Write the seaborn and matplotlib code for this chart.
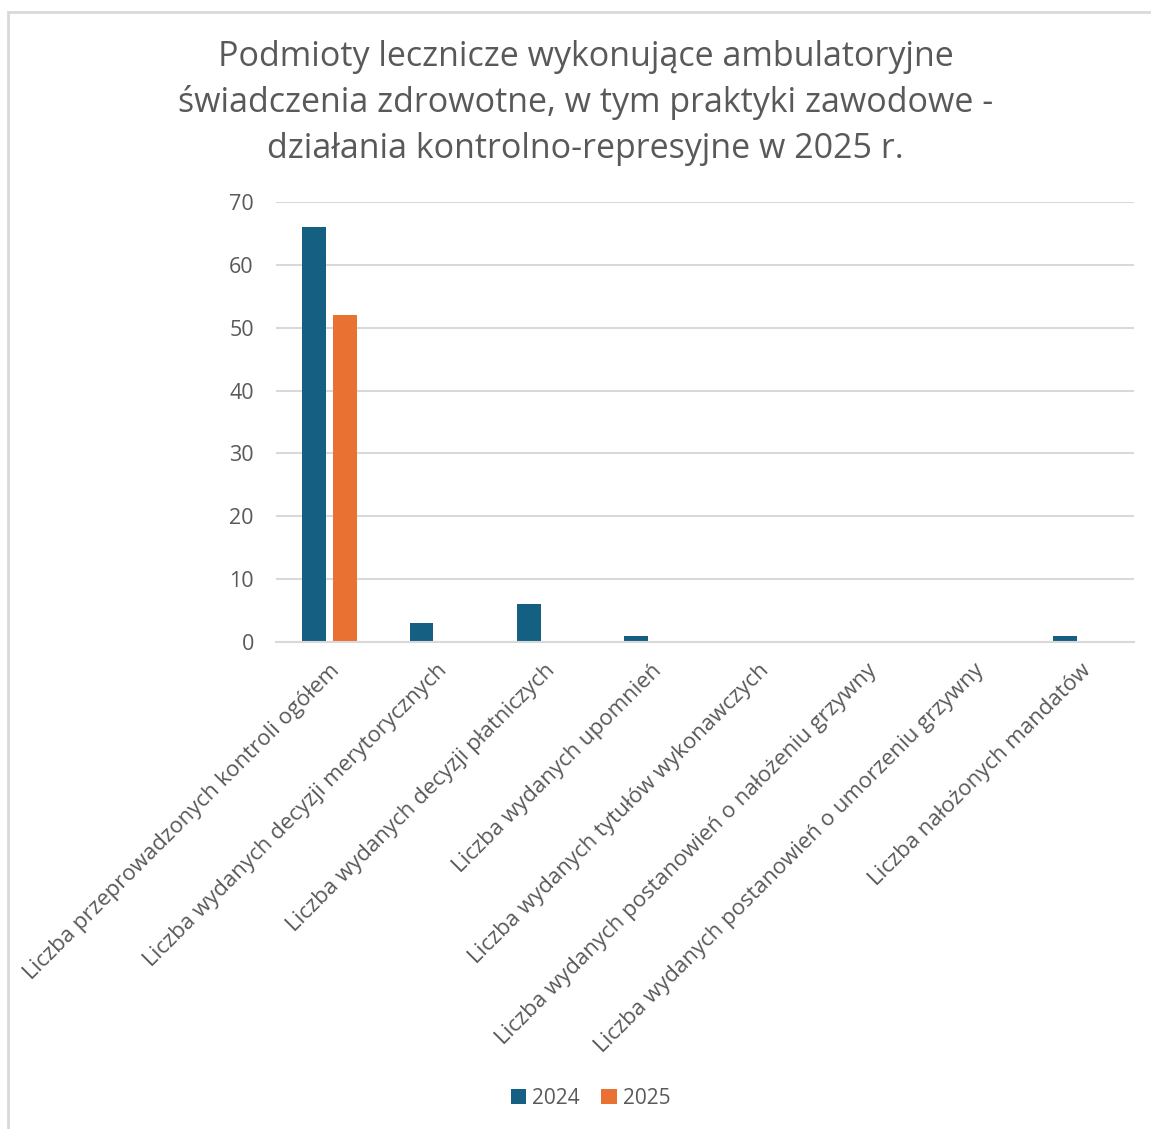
import pandas as pd
import matplotlib
matplotlib.use("Agg")
import matplotlib.pyplot as plt
import seaborn as sns
from matplotlib.patches import Rectangle

# Categories and values
categories = [
    "Liczba przeprowadzonych kontroli ogółem",
    "Liczba wydanych decyzji merytorycznych",
    "Liczba wydanych decyzji płatniczych",
    "Liczba wydanych upomnień",
    "Liczba wydanych tytułów wykonawczych",
    "Liczba wydanych postanowień o nałożeniu grzywny",
    "Liczba wydanych postanowień o umorzeniu grzywny",
    "Liczba nałożonych mandatów",
]
values_2024 = [66, 3, 6, 1, 0, 0, 0, 1]
values_2025 = [52, 0, 0, 0, 0, 0, 0, 0]
years = ["2024", "2025"]
colors = {"2024": "#156082", "2025": "#E97132"}

title = ("Podmioty lecznicze wykonujące ambulatoryjne\n"
         "świadczenia zdrowotne, w tym praktyki zawodowe -\n"
         "działania kontrolno-represyjne w 2025 r.")

df = pd.DataFrame({
    "Kategoria": categories * 2,
    "Rok": [years[0]] * len(categories) + [years[1]] * len(categories),
    "Wartość": values_2024 + values_2025,
})

sns.set_theme(style="white")
plt.rcParams["font.family"] = ["Open Sans", "DejaVu Sans"]
text_gray = "#595959"

fig = plt.figure(figsize=(11.51, 11.29), dpi=100)
ax = fig.add_axes([0.2398, 0.4314, 0.7454, 0.3897])

sns.barplot(data=df, x="Kategoria", y="Wartość", hue="Rok", palette=colors,
            width=0.571, gap=0.226, saturation=1, linewidth=0, ax=ax, legend=True)

ax.set_ylim(0, 70)
ax.set_yticks(range(0, 71, 10))
ax.set_xlim(-0.5, len(categories) - 0.5)
ax.yaxis.grid(True, color="#D9D9D9", linewidth=1.5)
ax.set_axisbelow(True)
for s in ["top", "right", "left"]:
    ax.spines[s].set_visible(False)
ax.spines["bottom"].set_color("#D9D9D9")
ax.spines["bottom"].set_linewidth(1.5)
ax.set_xlabel("")
ax.set_ylabel("")
ax.tick_params(axis="y", length=0, pad=16, labelsize=15.5, labelcolor=text_gray)
ax.tick_params(axis="x", length=0, pad=13, labelsize=16, labelcolor=text_gray)
plt.setp(ax.get_xticklabels(), rotation=45, ha="right", rotation_mode="anchor")

handles, labels = ax.get_legend_handles_labels()
ax.legend_.remove()
fig.legend(handles, labels, loc="center", bbox_to_anchor=(0.513, 0.027), ncol=2,
           frameon=False, fontsize=15, labelcolor=text_gray, handlelength=0.75,
           handleheight=0.75, handletextpad=0.3, columnspacing=1.0)

fig.text(0.509, 0.909, title, ha="center", va="center", fontsize=24.5,
         color=text_gray, linespacing=1.43)

# light frame of the chart area
fig.patches.append(Rectangle((8 / 1151, -0.05), 1.1, 1 - 12 / 1129 + 0.05,
                             transform=fig.transFigure, fill=False,
                             edgecolor="#D9D9D9", linewidth=2))

fig.savefig("out.png", dpi=100, facecolor="white")
